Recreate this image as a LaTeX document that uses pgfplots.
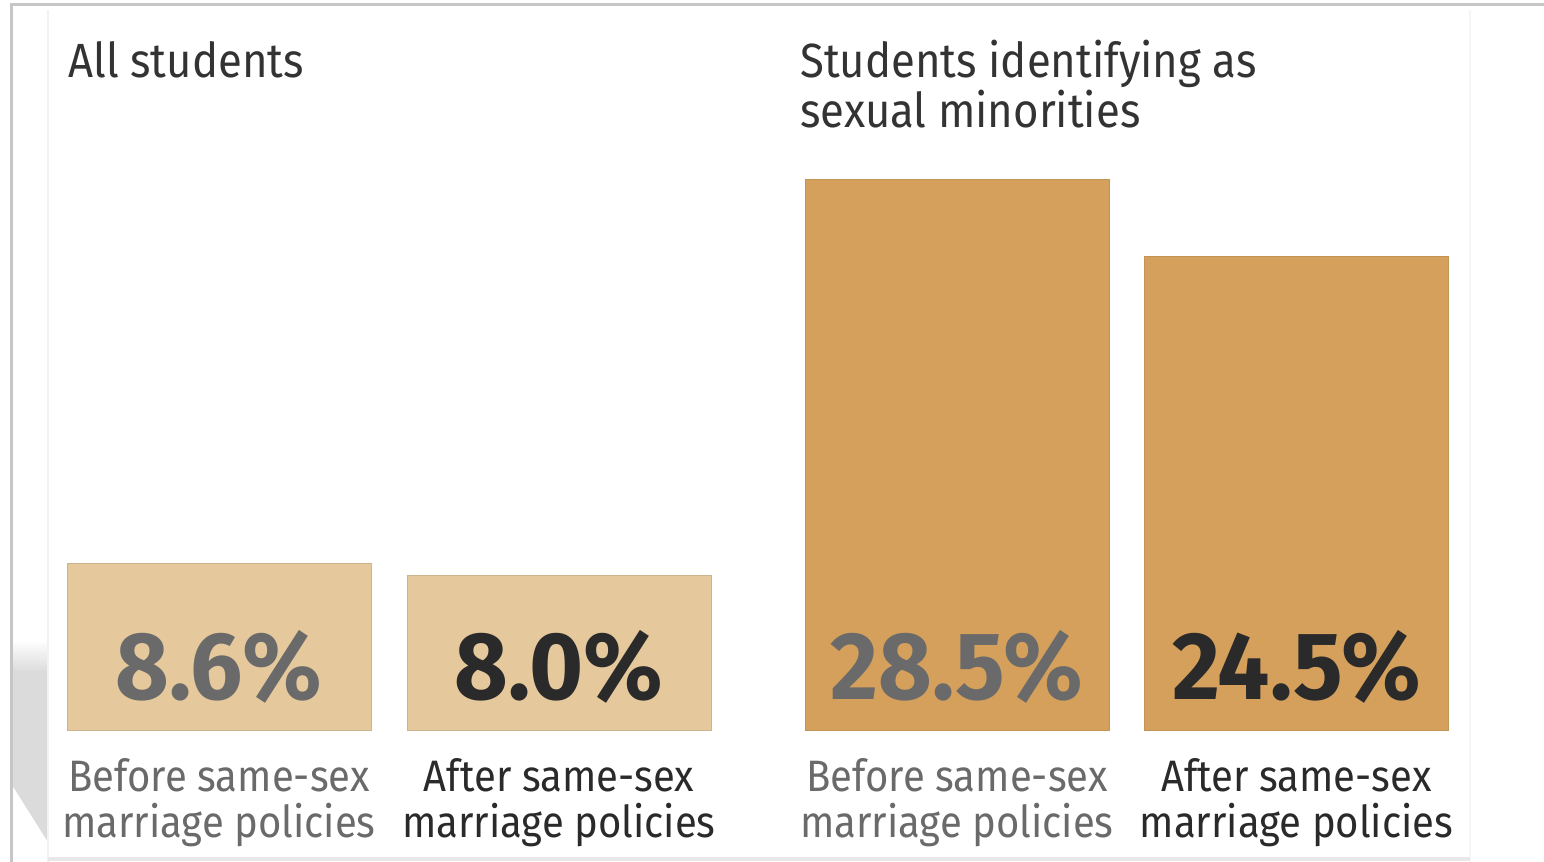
\documentclass[border=0pt]{standalone}
\usepackage{pgfplots}
\pgfplotsset{compat=1.18}
\usepackage{fontspec}
\setmainfont{Fira Sans}[FakeStretch=0.91]
\newfontfamily\valfont{Fira Sans}[FakeStretch=0.965]
\definecolor{lightbar}{HTML}{E5C89B}
\definecolor{darkbar}{HTML}{D4A05C}
\definecolor{txtgray}{HTML}{6A6A6A}
\definecolor{txtdark}{HTML}{2A2A2A}
\definecolor{titlec}{HTML}{333333}
\pgfplotstableread{
x y
219 8.6
559 8.0
}\allstud
\pgfplotstableread{
x y
957 28.5
1296.5 24.5
}\minor
\begin{document}
\begin{tikzpicture}
\useasboundingbox (0,0) rectangle (772pt,431pt);
\fill[white] (0,0) rectangle (772pt,431pt);
\begin{scope}[x=0.5pt,y=-0.5pt,yshift=431pt]
  % shadow at lower left
  \shade[top color=white,bottom color=gray!28] (12,640) rectangle (48,672);
  \fill[gray!28] (12,671) -- (48,671) -- (48,842) -- (12,785) -- cycle;
  % frame lines
  \draw[gray!45,line width=1.5pt] (11,862) -- (11,5) -- (1544,5);
  \draw[gray!10,line width=1pt] (48,10) -- (48,862);
  \draw[gray!7,line width=1pt] (1470,10) -- (1470,862);
  \draw[gray!18,line width=2pt] (48,859) -- (1470,859);
\end{scope}
\begin{axis}[at={(0,0)},anchor=south west,
  width=772pt,height=431pt,scale only axis,
  xmin=0,xmax=1544,ymin=-6.83,ymax=37.77,
  hide axis,clip=false,
  ybar,bar width=304,bar shift=0pt]
\addplot[fill=lightbar,draw=lightbar!90!black,line width=0.3pt] table[x=x,y=y]{\allstud};
\addplot[fill=darkbar,draw=darkbar!92!black,line width=0.3pt] table[x=x,y=y]{\minor};
\end{axis}
\begin{scope}[x=0.5pt,y=-0.5pt,yshift=431pt]
  \node[anchor=base west,inner sep=0,text=titlec,font=\fontsize{24}{29}\selectfont] at (68,78) {All students};
  \node[anchor=base west,inner sep=0,text=titlec,font=\fontsize{24}{29}\selectfont] at (800,78) {Students identifying as};
  \node[anchor=base west,inner sep=0,text=titlec,font=\fontsize{24}{29}\selectfont] at (800,128) {sexual minorities};
  \node[anchor=base,inner sep=0,text=txtgray,font=\valfont\fontsize{48}{58}\selectfont\bfseries] at (219,700) {8.6\%};
  \node[anchor=base,inner sep=0,text=txtdark,font=\valfont\fontsize{48}{58}\selectfont\bfseries] at (559,700) {8.0\%};
  \node[anchor=base,inner sep=0,text=txtgray,font=\valfont\fontsize{48}{58}\selectfont\bfseries] at (957,700) {28.5\%};
  \node[anchor=base,inner sep=0,text=txtdark,font=\valfont\fontsize{48}{58}\selectfont\bfseries] at (1296.5,700) {24.5\%};
  \foreach \cx/\col in {219/txtgray,957/txtgray}{
    \node[anchor=base,inner sep=0,text=\col,font=\fontsize{22}{26}\selectfont] at (\cx,792) {Before same-sex};
    \node[anchor=base,inner sep=0,text=\col,font=\fontsize{22}{26}\selectfont] at (\cx,838) {marriage policies};
  }
  \foreach \cx/\col in {559/txtdark,1296.5/txtdark}{
    \node[anchor=base,inner sep=0,text=\col,font=\fontsize{22}{26}\selectfont] at (\cx,792) {After same-sex};
    \node[anchor=base,inner sep=0,text=\col,font=\fontsize{22}{26}\selectfont] at (\cx,838) {marriage policies};
  }
\end{scope}
\end{tikzpicture}
\end{document}
